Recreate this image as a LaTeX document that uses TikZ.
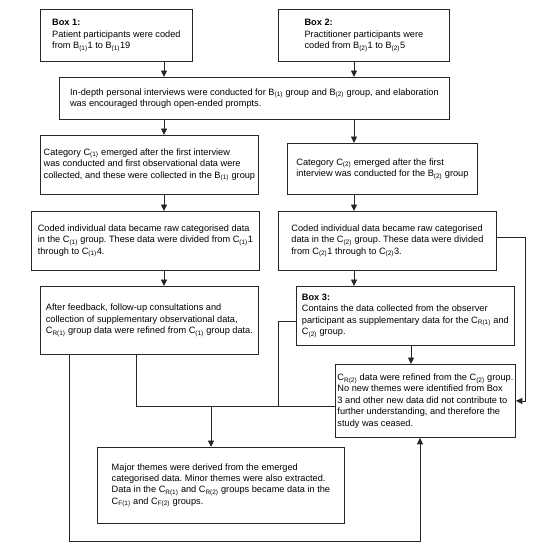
\documentclass[tikz,border=0pt]{standalone}
\usepackage{fontspec}
\setmainfont{Liberation Sans}
\usetikzlibrary{arrows.meta}
\newcommand{\grp}[1]{\textsubscript{#1}}

\begin{document}
\begin{tikzpicture}[
    x=1pt, y=-1pt,
    box/.style={draw=black!85, anchor=north west, align=left, inner sep=0pt,
                line width=0.8pt, font=\fontsize{9.2}{11.4}\selectfont\frenchspacing},
    line/.style={draw=black!85, line width=0.8pt},
    arrow/.style={line, -{Triangle[width=6pt, length=6.5pt]}}
    ]
    \useasboundingbox (0,0) rectangle (553,547);
    % participant boxes
    \node[box, minimum width=152, minimum height=52] (box1) at (40,9)
        {\textbf{Box 1:}\\Patient participants were coded\\from B\grp{(1)}1 to B\grp{(1)}19};
    \node[box, minimum width=171, minimum height=52] (box2) at (278,9)
        {\textbf{Box 2:}\\Practitioner participants were\\coded from B\grp{(2)}1 to B\grp{(2)}5};
    \node[box, minimum width=390, minimum height=42] (interview) at (59,77)
        {In-depth personal interviews were conducted for B\grp{(1)} group and B\grp{(2)} group, and elaboration\\was encouraged through open-ended prompts.};
    % categories
    \node[box, minimum width=218, minimum height=59] (cat1) at (40,135)
        {Category C\grp{(1)} emerged after the first interview\\was conducted and first observational data were\\collected, and these were collected in the B\grp{(1)} group};
    \node[box, minimum width=190, minimum height=51] (cat2) at (287,143)
        {Category C\grp{(2)} emerged after the first\\interview was conducted for the B\grp{(2)} group};
    \node[box, minimum width=228, minimum height=59] (coded1) at (31,211)
        {Coded individual data became raw categorised data\\in the C\grp{(1)} group. These data were divided from C\grp{(1)}1\\through to C\grp{(1)}4.};
    \node[box, minimum width=218, minimum height=59] (coded2) at (278,211)
        {Coded individual data became raw categorised\\data in the C\grp{(2)} group. These data were divided\\from C\grp{(2)}1 through to C\grp{(2)}3.};
    % refinement
    \node[box, minimum width=218, minimum height=68] (feedback) at (40,286)
        {After feedback, follow-up consultations and\\collection of supplementary observational data,\\C\grp{R(1)} group data were refined from C\grp{(1)} group data.};
    \node[box, minimum width=218, minimum height=59] (box3) at (296,286)
        {\textbf{Box 3:}\\Contains the data collected from the observer\\participant as supplementary data for the C\grp{R(1)} and\\C\grp{(2)} group.};
    \node[box, minimum width=180, minimum height=73] (cr2) at (335,364)
        {C\grp{R(2)} data were refined from the C\grp{(2)} group.\\No new themes were identified from Box\\3 and other new data did not contribute to\\further understanding, and therefore the\\study was ceased.};
    \node[box, minimum width=247, minimum height=76] (themes) at (97,447)
        {Major themes were derived from the emerged\\categorised data. Minor themes were also extracted.\\Data in the C\grp{R(1)} and C\grp{R(2)} groups became data in the\\C\grp{F(1)} and C\grp{F(2)} groups.};
    % connector columns and bends
    \coordinate (colA) at (164,0);
    \coordinate (colB) at (354,0);
    \coordinate (colC) at (411,0);
    \coordinate (rtop) at (525,237);
    \coordinate (lmid) at (278,321);
    \coordinate (jn) at (136,406);
    \coordinate (tA) at (211,0);
    \coordinate (bl) at (69,541);
    \coordinate (br) at (420,541);
    \draw[arrow] (colA |- box1.south) -- (colA |- interview.north);
    \draw[arrow] (colB |- box2.south) -- (colB |- interview.north);
    \draw[arrow] (colA |- interview.south) -- (colA |- cat1.north);
    \draw[arrow] (colB |- interview.south) -- (colB |- cat2.north);
    \draw[arrow] (colA |- cat1.south) -- (colA |- coded1.north);
    \draw[arrow] (colB |- cat2.south) -- (colB |- coded2.north);
    \draw[arrow] (colA |- coded1.south) -- (colA |- feedback.north);
    \draw[arrow] (colB |- coded2.south) -- (colB |- box3.north);
    \draw[arrow] (colC |- box3.south) -- (colC |- cr2.north);
    \draw[arrow] (coded2.east |- rtop) -- (rtop) |- (cr2.east);
    \draw[line] (box3.west |- lmid) -- (lmid) -- (lmid |- jn);
    \draw[line] (jn |- feedback.south) -- (jn) -- (jn -| cr2.west);
    \draw[arrow] (tA |- jn) -- (tA |- themes.north);
    \draw[arrow] (bl |- feedback.south) -- (bl) -- (br) -- (br |- cr2.south);
\end{tikzpicture}
\end{document}
